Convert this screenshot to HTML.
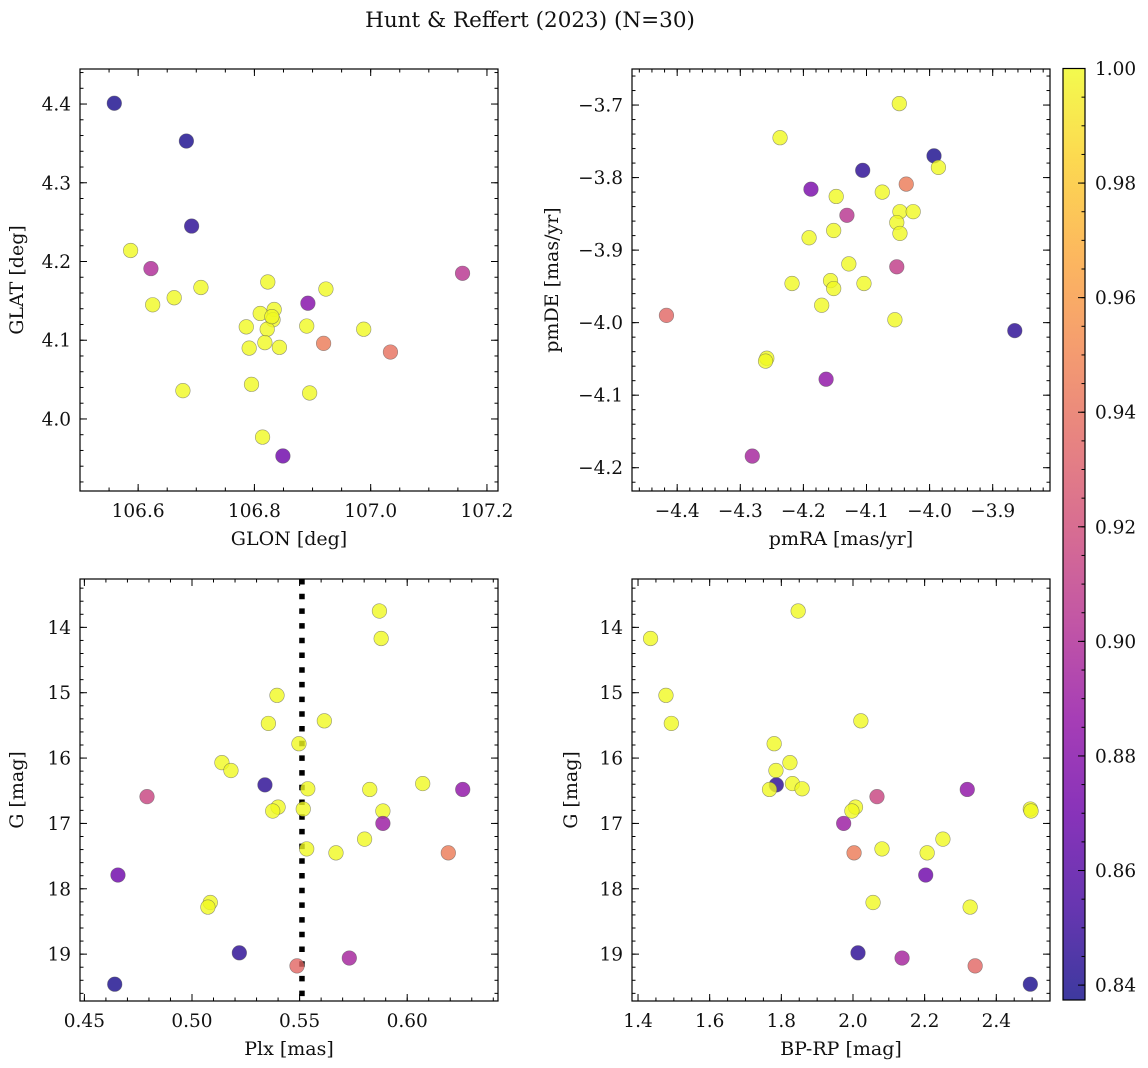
<!DOCTYPE html>
<html><head><meta charset="utf-8"><style>
html,body{margin:0;padding:0;background:#fff;}
svg{display:block;font-family:"DejaVu Serif","Liberation Serif",serif;}
</style></head><body>
<svg id="fig" width="1148" height="1068" viewBox="0 0 1148 1068" xmlns="http://www.w3.org/2000/svg">
<defs>
<linearGradient id="plasmaGrad" x1="0" y1="1" x2="0" y2="0"></linearGradient>
<clipPath id="clipTL"><rect x="80" y="69" width="418" height="422"/></clipPath>
<clipPath id="clipTR"><rect x="632" y="69" width="418" height="422"/></clipPath>
<clipPath id="clipBL"><rect x="80" y="579" width="418" height="422"/></clipPath>
<clipPath id="clipBR"><rect x="632" y="579" width="418" height="422"/></clipPath>
</defs>
<text x="530" y="27" font-size="21.5" text-anchor="middle" fill="#111">Hunt &amp; Reffert (2023) (N=30)</text>
</svg>
<script>
// ---- data ----
const glon = [106.559,106.683,106.692,106.587,106.622,107.158,106.823,106.708,106.923,106.662,106.625,106.892,106.834,106.810,106.832,106.786,106.890,106.988,106.822,106.919,107.034,106.818,106.791,106.843,106.795,106.677,106.895,106.814,106.849,106.830];
const glat = [4.401,4.353,4.245,4.214,4.191,4.185,4.174,4.167,4.165,4.154,4.145,4.147,4.139,4.134,4.126,4.117,4.118,4.114,4.114,4.096,4.085,4.097,4.090,4.091,4.044,4.036,4.033,3.977,3.953,4.130];
const probPos = [0.840,0.840,0.845,1,0.900,0.905,1,1,1,1,1,0.880,1,1,1,1,1,1,1,0.945,0.940,1,1,1,1,1,1,1,0.870,1];
const pmra = [-4.048,-4.237,-3.993,-3.986,-4.106,-4.037,-4.188,-4.075,-4.148,-4.047,-4.026,-4.131,-4.052,-4.152,-4.047,-4.191,-4.128,-4.052,-4.218,-4.157,-4.152,-4.104,-4.171,-4.417,-4.055,-3.865,-4.258,-4.260,-4.164,-4.281];
const pmde = [-3.698,-3.745,-3.770,-3.786,-3.790,-3.809,-3.816,-3.820,-3.826,-3.847,-3.847,-3.852,-3.862,-3.873,-3.877,-3.883,-3.919,-3.923,-3.946,-3.942,-3.953,-3.946,-3.976,-3.990,-3.996,-4.011,-4.049,-4.053,-4.078,-4.184];
const probPm = [1,1,0.840,1,0.845,0.945,0.875,1,1,1,1,0.905,1,1,1,1,1,0.910,1,1,1,1,1,0.935,1,0.845,1,1,0.885,0.895];
const gmag = [13.75,14.17,15.04,15.43,15.47,15.78,16.07,16.19,16.41,16.39,16.47,16.48,16.48,16.59,16.75,16.81,16.78,16.81,17.00,17.24,17.39,17.45,17.45,17.79,18.21,18.28,18.98,19.06,19.18,19.46];
const plx = [0.5871,0.5879,0.5395,0.5615,0.5355,0.5497,0.5139,0.5181,0.5339,0.6072,0.5538,0.5826,0.6258,0.4791,0.5400,0.5375,0.5517,0.5887,0.5887,0.5802,0.5533,0.5669,0.6191,0.4656,0.5085,0.5074,0.5220,0.5731,0.5488,0.4641];
const bprp = [1.847,1.435,1.478,2.022,1.493,1.780,1.824,1.785,1.786,1.831,1.858,1.767,2.319,2.067,2.007,1.997,2.495,2.497,1.974,2.251,2.081,2.207,2.003,2.203,2.056,2.327,2.014,2.137,2.341,2.495];
const probCmd = [1,1,1,1,1,1,1,1,0.845,1,1,1,0.885,0.915,1,1,1,1,0.890,1,1,1,0.945,0.870,1,1,0.845,0.895,0.935,0.840];
const plxLine = [0.5511];
const glonTicks = [106.6,106.8,107.0,107.2];
const glatTicks = [4.0,4.1,4.2,4.3,4.4];
const pmraTicks = [-4.4,-4.3,-4.2,-4.1,-4.0,-3.9];
const pmdeTicks = [-4.2,-4.1,-4.0,-3.9,-3.8,-3.7];
const plxTicks = [0.45,0.50,0.55,0.60];
const gTicks = [14,15,16,17,18,19];
const bprpTicks = [1.4,1.6,1.8,2.0,2.2,2.4];
const cbTicks = [0.84,0.86,0.88,0.90,0.92,0.94,0.96,0.98,1.00];

const NS = "http://www.w3.org/2000/svg";
const svg = document.getElementById('fig');
const plasma = ["#0d0887","#41049d","#6a00a8","#8f0da4","#b12a90","#cc4778","#e16462","#f2844b","#fca636","#fcce25","#f0f921"];
const VMIN = 0.8374, VMAX = 1.0;
const TFS = 18.5, LFS = 19;
function hex2rgb(h){return [parseInt(h.substr(1,2),16),parseInt(h.substr(3,2),16),parseInt(h.substr(5,2),16)];}
function cmap(v){
  let t = Math.max(0,Math.min(1,(v-VMIN)/(VMAX-VMIN)))*10;
  let i = Math.min(9,Math.floor(t)), f = t-i;
  const a = hex2rgb(plasma[i]), b = hex2rgb(plasma[i+1]);
  return 'rgb('+a.map((c,k)=>Math.round(c+(b[k]-c)*f)).join(',')+')';
}
function mk(tag, attrs, parent){
  const e = document.createElementNS(NS, tag);
  for (const k in attrs) e.setAttribute(k, attrs[k]);
  (parent||svg).appendChild(e);
  return e;
}
function fmt(v,d){return v<0?'\u2212'+Math.abs(v).toFixed(d):v.toFixed(d);}

function panel(cfg){
  const g = mk('g',{});
  
  
  const L=cfg.x0, R=cfg.x0+cfg.w, T=cfg.y0, B=cfg.y0+cfg.h;
  const sx = v => L + (v-cfg.xd[0])/(cfg.xd[1]-cfg.xd[0])*cfg.w;
  const sy = v => cfg.yinv ? T + (v-cfg.yd[0])/(cfg.yd[1]-cfg.yd[0])*cfg.h
                           : B - (v-cfg.yd[0])/(cfg.yd[1]-cfg.yd[0])*cfg.h;
  const marks = mk('g',{'clip-path':'url(#'+cfg.clip+')'},g);
  
  
  if (cfg.vline){
    cfg.vline.forEach(v=>{
      const ln = mk('line',{x1:sx(v),x2:sx(v),y1:T,y2:B,stroke:'#000','stroke-width':5.5,'stroke-dasharray':'5.5 9.2'},marks);
      
      
    });
  }
  cfg.xs.forEach((xv,i)=>{
    const c = mk('circle',{cx:sx(xv),cy:sy(cfg.ys[i]),r:7.3,fill:cmap(cfg.cs[i]),'fill-opacity':0.8,stroke:'#555','stroke-opacity':0.6,'stroke-width':0.6},marks);
    
    
  });
  const fr = mk('rect',{x:L,y:T,width:cfg.w,height:cfg.h,fill:'none',stroke:'#000','stroke-width':1.2},g);
  
  
  const tk = mk('g',{stroke:'#000','stroke-width':1},g);
  const xlo=cfg.xd[0], xhi=cfg.xd[1];
  for (let v=Math.ceil(xlo/cfg.xminor-1e-6)*cfg.xminor; v<=xhi+1e-9; v+=cfg.xminor){
    const x=sx(v); mk('line',{x1:x,x2:x,y1:B,y2:B-3.5},tk); mk('line',{x1:x,x2:x,y1:T,y2:T+3.5},tk);
  }
  const ylo=Math.min(...cfg.yd), yhi=Math.max(...cfg.yd);
  for (let v=Math.ceil(ylo/cfg.yminor-1e-6)*cfg.yminor; v<=yhi+1e-9; v+=cfg.yminor){
    const y=sy(v); mk('line',{x1:L,x2:L+3.5,y1:y,y2:y},tk); mk('line',{x1:R,x2:R-3.5,y1:y,y2:y},tk);
  }
  cfg.xt.forEach(v=>{
    const x=sx(v); if(x<L-1||x>R+1) return;
    mk('line',{x1:x,x2:x,y1:B,y2:B-7},tk); mk('line',{x1:x,x2:x,y1:T,y2:T+7},tk);
    const t = mk('text',{x:x,y:B+26,'font-size':TFS,'text-anchor':'middle',fill:'#111',stroke:'none'},g);
    t.textContent = fmt(v,cfg.xdec);
    
    
  });
  cfg.yt.forEach(v=>{
    const y=sy(v);
    mk('line',{x1:L,x2:L+7,y1:y,y2:y},tk); mk('line',{x1:R,x2:R-7,y1:y,y2:y},tk);
    const t = mk('text',{x:L-9,y:y+6.5,'font-size':TFS,'text-anchor':'end',fill:'#111',stroke:'none'},g);
    t.textContent = fmt(v,cfg.ydec);
    
    
  });
  const xl = mk('text',{x:L+cfg.w/2,y:B+54,'font-size':LFS,'text-anchor':'middle',fill:'#111'},g);
  xl.textContent = cfg.xlab;
  
  
  const yx = cfg.ylx, yy = T+cfg.h/2;
  const yl = mk('text',{x:yx,y:yy,'font-size':LFS,'text-anchor':'middle',fill:'#111',transform:'rotate(-90 '+yx+' '+yy+')'},g);
  yl.textContent = cfg.ylab;
  
  
}

panel({name:'glon-glat-panel',clip:'clipTL',x0:80,y0:69,w:418,h:422,xd:[106.5,107.219],yd:[3.9085,4.4445],yinv:false,
  xs:glon,ys:glat,cs:probPos,xt:glonTicks,yt:glatTicks,xminor:0.05,yminor:0.02,xdec:1,ydec:1,xlab:'GLON [deg]',ylab:'GLAT [deg]',ylx:23});
panel({name:'proper-motion-panel',clip:'clipTR',x0:632,y0:69,w:418,h:422,xd:[-4.4716,-3.8092],yd:[-4.2321,-3.6503],yinv:false,
  xs:pmra,ys:pmde,cs:probPm,xt:pmraTicks,yt:pmdeTicks,xminor:0.02,yminor:0.02,xdec:1,ydec:1,xlab:'pmRA [mas/yr]',ylab:'pmDE [mas/yr]',ylx:558});
panel({name:'parallax-magnitude-panel',clip:'clipBL',x0:80,y0:579,w:418,h:422,xd:[0.44796,0.64219],yd:[13.26,19.717],yinv:true,
  xs:plx,ys:gmag,cs:probCmd,xt:plxTicks,yt:gTicks,xminor:0.01,yminor:0.2,xdec:2,ydec:0,xlab:'Plx [mas]',ylab:'G [mag]',ylx:23,vline:plxLine});
panel({name:'color-magnitude-panel',clip:'clipBR',x0:632,y0:579,w:418,h:422,xd:[1.3832,2.5499],yd:[13.26,19.717],yinv:true,
  xs:bprp,ys:gmag,cs:probCmd,xt:bprpTicks,yt:gTicks,xminor:0.05,yminor:0.2,xdec:1,ydec:0,xlab:'BP-RP [mag]',ylab:'G [mag]',ylx:577});

// colorbar
const grad = document.getElementById('plasmaGrad');
plasma.forEach((c,i)=>{ mk('stop',{offset:(i/10).toFixed(2),'stop-color':c,'stop-opacity':0.8},grad); });
const cb = mk('g',{});


const CBX=1063, CBT=68.5, CBW=22, CBB=1000;
const cy = v => CBB - (v-VMIN)/(VMAX-VMIN)*(CBB-CBT);
mk('rect',{x:CBX,y:CBT,width:CBW,height:CBB-CBT,fill:'url(#plasmaGrad)'},cb);
mk('rect',{x:CBX,y:CBT,width:CBW,height:CBB-CBT,fill:'none',stroke:'#000','stroke-width':1.2},cb);
for (let v=0.84; v<=1.0001; v+=0.005){ const y=cy(v); mk('line',{x1:CBX+CBW,x2:CBX+CBW-3.5,y1:y,y2:y,stroke:'#000','stroke-width':1},cb); }
cbTicks.forEach(v=>{
  const y=cy(v);
  mk('line',{x1:CBX+CBW,x2:CBX+CBW-7,y1:y,y2:y,stroke:'#000','stroke-width':1},cb);
  const t = mk('text',{x:CBX+CBW+10,y:y+6.5,'font-size':TFS,fill:'#111'},cb);
  t.textContent = v.toFixed(2);
  
  
});
</script>
</body></html>
